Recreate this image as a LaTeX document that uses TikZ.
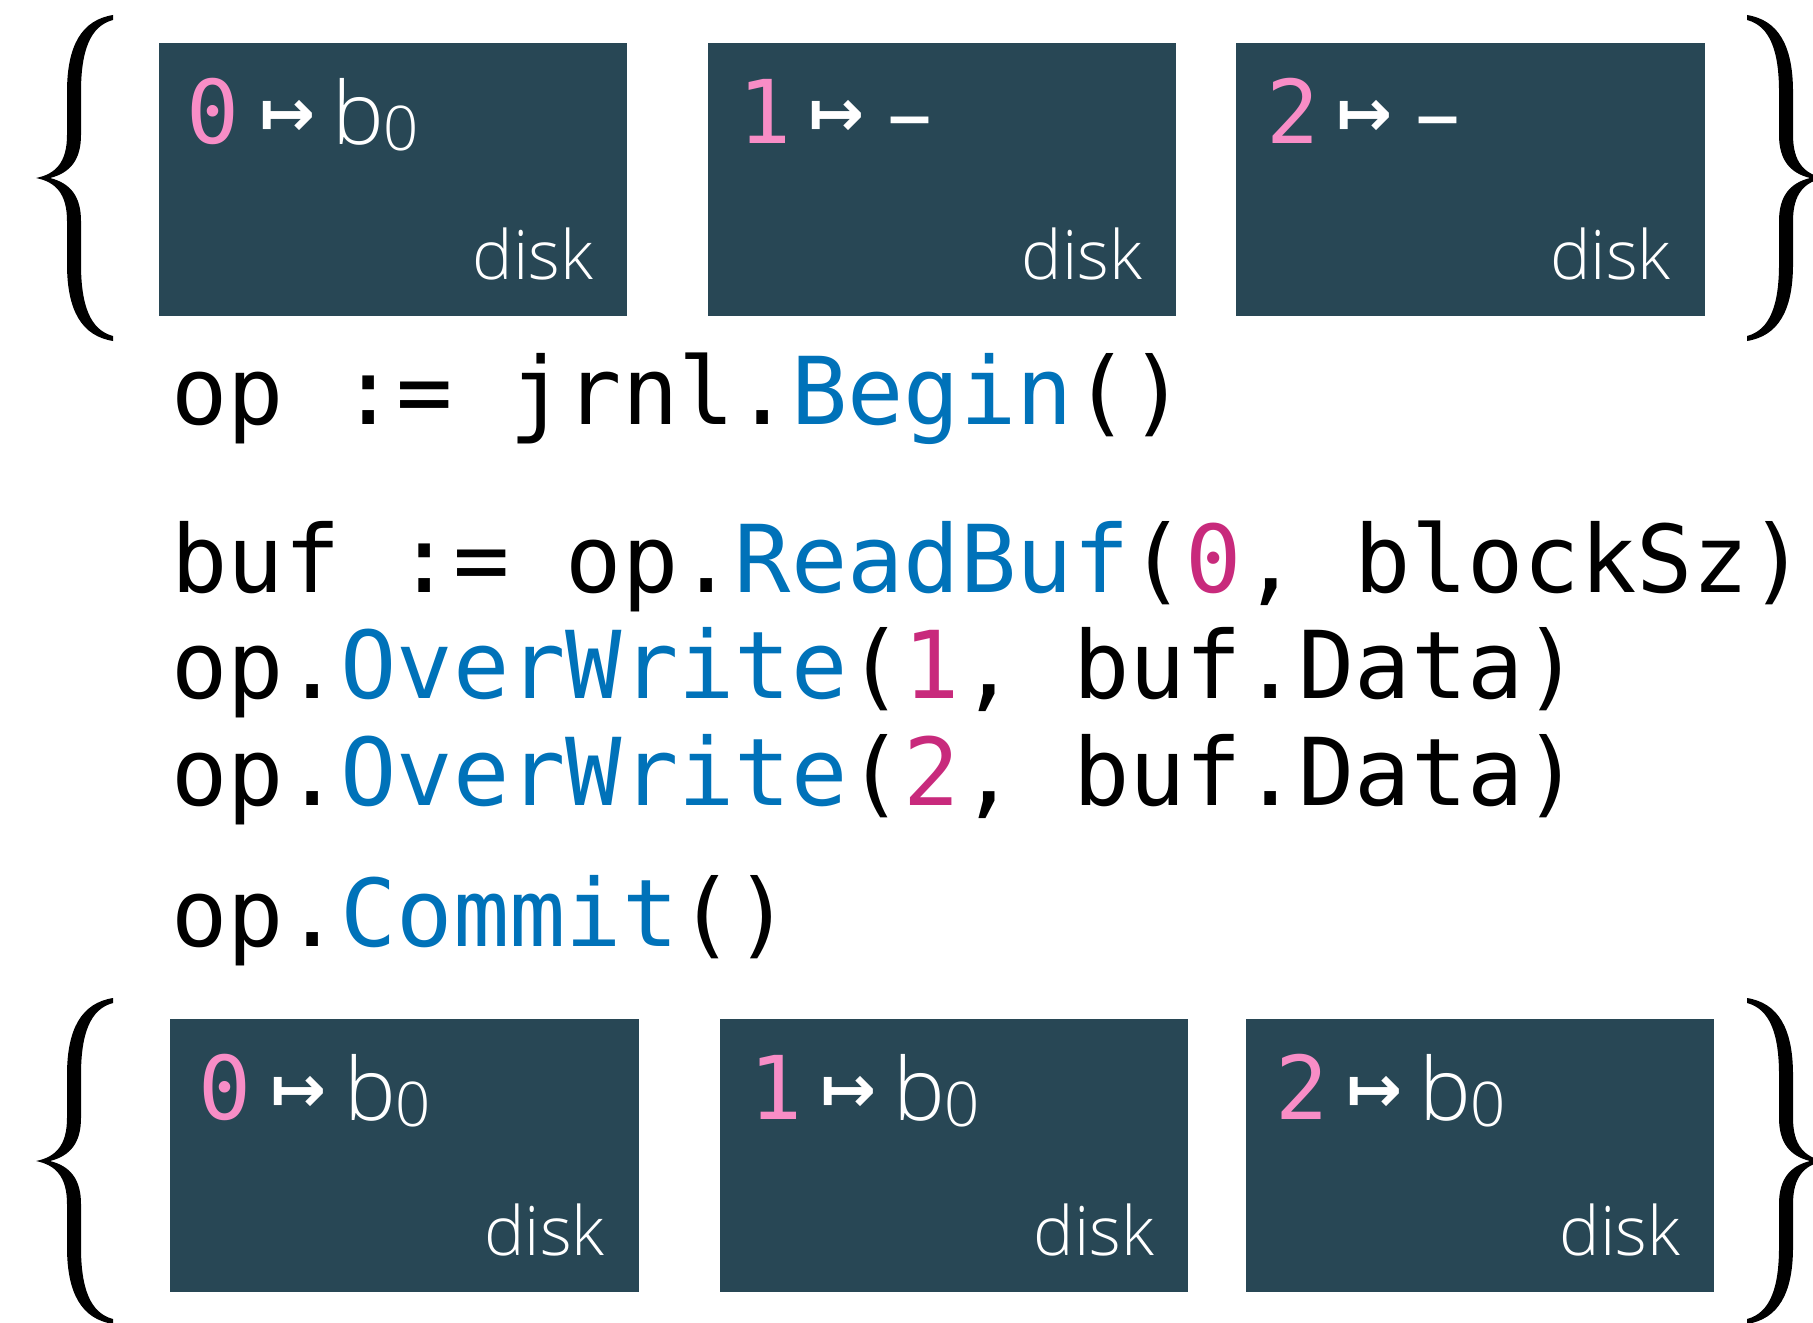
\documentclass[tikz,border=0pt]{standalone}
\usepackage{fontspec}
\usetikzlibrary{calc}
\newfontfamily\codefont{DejaVu Sans Mono}
\newfontfamily\labelfont{Open Sans}
\newfontfamily\thinfont{Open Sans Light}
\newfontfamily\arrowfont{DejaVu Sans}[BoldFont={DejaVu Sans Bold}]
\definecolor{diskbg}{HTML}{284755}
\definecolor{keypink}{HTML}{F88DC6}
\definecolor{codepink}{HTML}{C82A7C}
\definecolor{codeblue}{HTML}{0072B9}
\newcommand\fn[1]{\textcolor{codeblue}{#1}}
\newcommand\nm[1]{\textcolor{codepink}{#1}}
\newcommand\blockkey[2]{\kern#1{\codefont\fontsize{44}{50}\selectfont\textcolor{keypink}{#2}}}
\newcommand\blockval{\kern1pt{\thinfont\fontsize{43.5}{50}\selectfont b}\kern-0.5pt\raisebox{-2.9pt}{\thinfont\fontsize{30.8}{36}\selectfont 0}}
\newcommand\noval{\kern3.5pt{\labelfont\fontsize{45}{50}\selectfont –}}
% one disk block: name, top-left corner, key, value
\newcommand\diskblock[5]{%
  \node[diskbox] (#1) at (#2,#3) {};
  \node[keytxt] (#1-key) at ($(#1.north west)+(21,100.5)$) {#4};
  \node[maparrow] (#1-arrow) at ($(#1.north west)+(129,76)$) {\textbf{↦}};
  \node[keytxt] (#1-val) at ($(#1.north west)+(172,101.7)$) {#5};
  \node[disktxt] (#1-disk) at ($(#1.south east)+(-34,-37)$) {disk};
}
% a tall curly brace, opening to the right
\newcommand\bigbrace{%
  \fill (113,15) .. controls (82,20) and (67,45) .. (67,92) -- (67,135)
    .. controls (67,162) and (56,174) .. (36,178)
    .. controls (56,182) and (67,194) .. (67,221) -- (67,264)
    .. controls (67,311) and (82,336) .. (113,341) -- (113,336)
    .. controls (90,330) and (81,305) .. (81,264) -- (81,221)
    .. controls (81,196) and (70,183) .. (50,178)
    .. controls (70,173) and (81,160) .. (81,135) -- (81,92)
    .. controls (81,51) and (90,26) .. (113,20) -- cycle;}
\begin{document}
\begin{tikzpicture}[x=0.5pt,y=-0.5pt,
  diskbox/.style={fill=diskbg,draw=none,inner sep=0pt,anchor=north west,
    minimum width=234.2pt,minimum height=136.5pt},
  keytxt/.style={anchor=base west,inner sep=0pt,text=white},
  maparrow/.style={anchor=center,inner sep=0pt,text=white,font=\arrowfont\fontsize{33.5}{38}\selectfont},
  disktxt/.style={anchor=base east,inner sep=0pt,text=white,font=\thinfont\fontsize{34}{40}\selectfont},
  codeline/.style={anchor=base west,inner sep=0pt,text=black,font=\codefont\fontsize{46.8}{54}\selectfont\frenchspacing}]
\useasboundingbox (0,0) rectangle (1813,1322);
\clip (0,0) rectangle (1813,1322);

% state before the operation
\diskblock{a0}{158.4}{42.8}{\blockkey{3.5pt}{0}}{\blockval}
\diskblock{a1}{707.6}{42.8}{\blockkey{4.5pt}{1}}{\noval}
\diskblock{a2}{1236}{42.8}{\blockkey{4.5pt}{2}}{\noval}

% the journal operation
\node[codeline] (c1) at (171,424) {op := jrnl.\fn{Begin}()};
\node[codeline] (c2) at (171,592) {buf := op.\fn{ReadBuf}(\nm{0}, blockSz)};
\node[codeline] (c3) at (171,698.5) {op.\fn{OverWrite}(\nm{1}, buf.Data)};
\node[codeline] (c4) at (171,805.5) {op.\fn{OverWrite}(\nm{2}, buf.Data)};
\node[codeline] (c5) at (171,946) {op.\fn{Commit}()};

% state after commit
\diskblock{b0}{170}{1018.7}{\blockkey{3.5pt}{0}}{\blockval}
\diskblock{b1}{719.2}{1018.7}{\blockkey{4.5pt}{1}}{\blockval}
\diskblock{b2}{1245.3}{1018.7}{\blockkey{4.5pt}{2}}{\blockval}

% braces around each set of disk blocks
\begin{scope}\bigbrace\end{scope}
\begin{scope}[shift={(1860,0)},xscale=-1]\bigbrace\end{scope}
\begin{scope}[shift={(0,983)}]\bigbrace\end{scope}
\begin{scope}[shift={(1860,983)},xscale=-1]\bigbrace\end{scope}
\end{tikzpicture}
\end{document}
